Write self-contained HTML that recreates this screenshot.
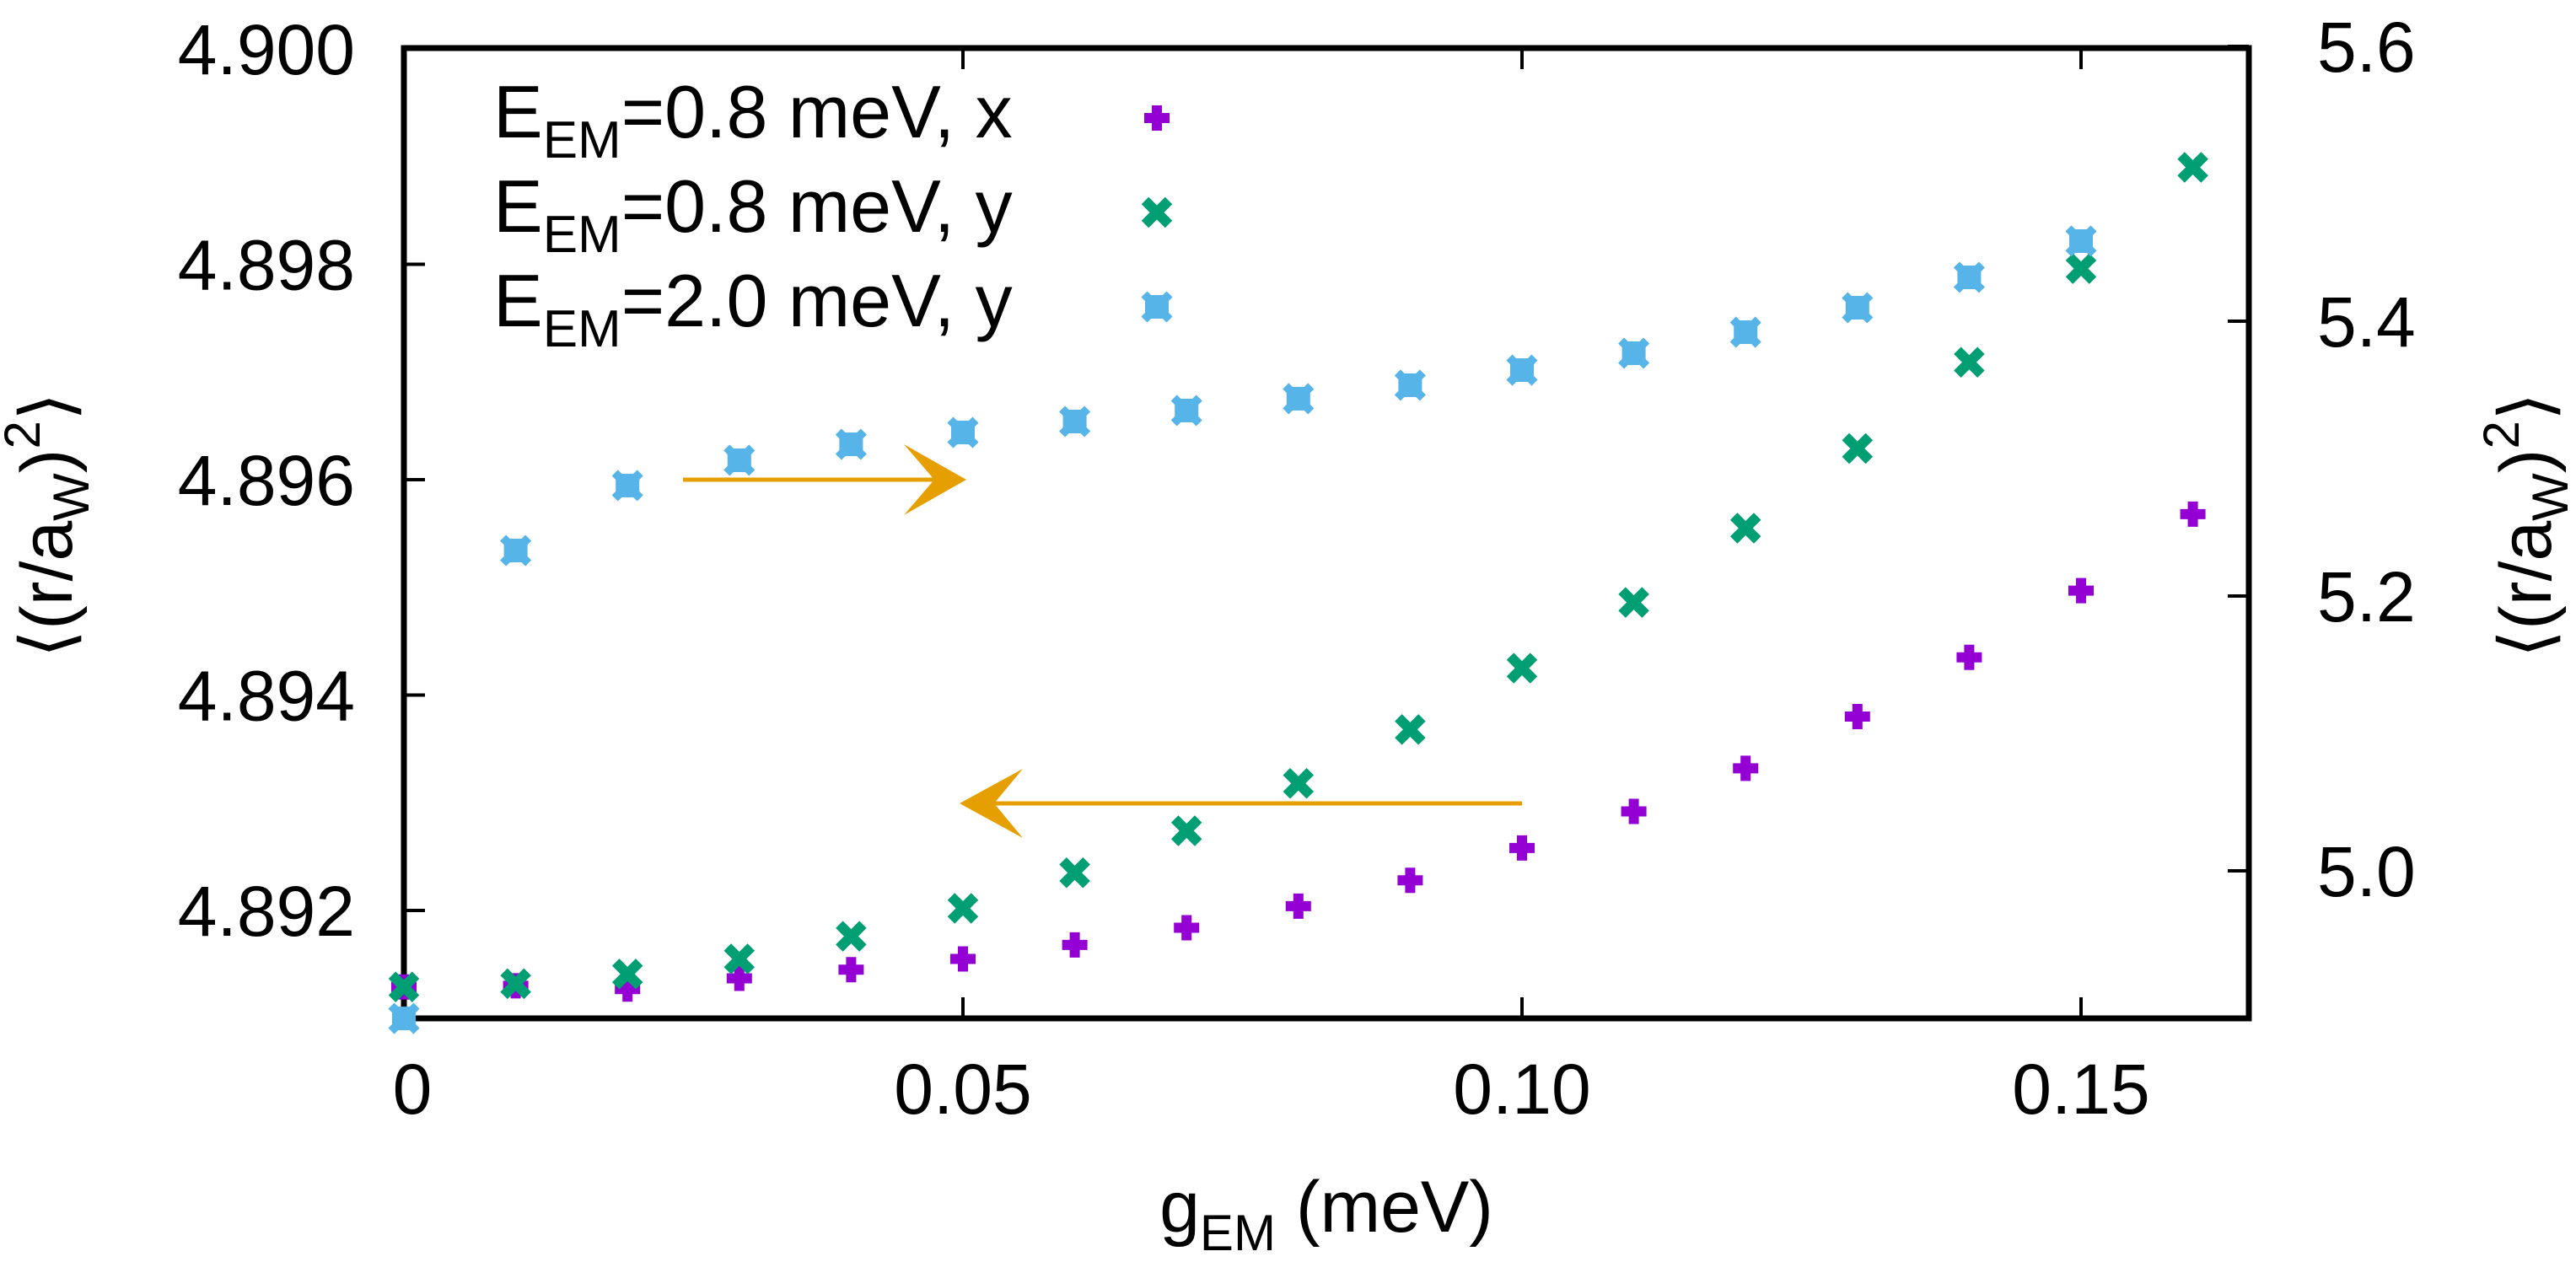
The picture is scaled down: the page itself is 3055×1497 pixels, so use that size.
<!DOCTYPE html>
<html><head><meta charset="utf-8"><style>
html,body{margin:0;padding:0;background:#fff;}
svg{display:block;font-family:"Liberation Sans",sans-serif;}
</style></head><body>
<svg id="chart" width="3055" height="1497" viewBox="0 0 3055 1497" xmlns="http://www.w3.org/2000/svg">
<g id="axes"></g>
<g id="marks"></g>
<g id="legend"></g>
</svg>
<script>
const gValues = [0,0.01,0.02,0.03,0.04,0.05,0.06,0.07,0.08,0.09,0.10,0.11,0.12,0.13,0.14,0.15,0.16];
const seriesX08 = [4.89129,4.89130,4.89127,4.89137,4.89145,4.89155,4.89168,4.89184,4.89204,4.89228,4.89258,4.89292,4.89332,4.89380,4.89435,4.89497,4.89568];
const seriesY08 = [4.89129,4.89132,4.89141,4.89155,4.89176,4.89202,4.89235,4.89274,4.89318,4.89368,4.89425,4.89486,4.89555,4.89629,4.89709,4.89796,4.89890];
const gValues20 = [0,0.01,0.02,0.03,0.04,0.05,0.06,0.07,0.08,0.09,0.10,0.11,0.12,0.13,0.14,0.15];
const seriesY20 = [4.8926,5.2331,5.2804,5.2988,5.3104,5.3190,5.3270,5.3350,5.3436,5.3534,5.3644,5.3767,5.3920,5.4098,5.4319,5.4583];
const xTicks = [0,0.05,0.10,0.15];
const xTickLabels = ["0","0.05","0.10","0.15"];
const yTicks = [4.892,4.894,4.896,4.898,4.900];
const yTickLabels = ["4.892","4.894","4.896","4.898","4.900"];
const y2Ticks = [5.0,5.2,5.4,5.6];
const y2TickLabels = ["5.0","5.2","5.4","5.6"];
const legendLabels = ["0.8 meV, x","0.8 meV, y","2.0 meV, y"];

const L=479,R=2667,T=57,B=1208;
const X=v=>L+v/0.05*663;
const Y=v=>569-(v-4.896)*127750;
const Y2=v=>1033-(v-5.0)*1630;
const NS="http://www.w3.org/2000/svg";
function mk(tag,attrs,parent){const e=document.createElementNS(NS,tag);for(const k in attrs)e.setAttribute(k,attrs[k]);parent.appendChild(e);return e;}
const axes=document.getElementById('axes'),marks=document.getElementById('marks'),legend=document.getElementById('legend');

// ticks
xTicks.forEach((v,i)=>{
  const x=X(v);
  let t=mk('line',{x1:x,y1:B,x2:x,y2:B-25,stroke:'#000','stroke-width':4},axes);
  
  t=mk('line',{x1:x,y1:T,x2:x,y2:T+25,stroke:'#000','stroke-width':4},axes);
  
  const lb=mk('text',{x:x+(i===0?10:0),y:1321,'font-size':84,'text-anchor':'middle'},axes);
  lb.textContent=xTickLabels[i];
  
});
yTicks.forEach((v,i)=>{
  const y=Y(v);
  const t=mk('line',{x1:L,y1:y,x2:L+25,y2:y,stroke:'#000','stroke-width':4},axes);
  
  const lb=mk('text',{x:421,y:y+30,'font-size':84,'text-anchor':'end'},axes);
  lb.textContent=yTickLabels[i];
  
});
y2Ticks.forEach((v,i)=>{
  const y=Y2(v);
  const t=mk('line',{x1:R,y1:y,x2:R-25,y2:y,stroke:'#000','stroke-width':4},axes);
  
  const lb=mk('text',{x:2748,y:y+30,'font-size':84,'text-anchor':'start'},axes);
  lb.textContent=y2TickLabels[i];
  
});
const frame=mk('rect',{x:L,y:T,width:R-L,height:B-T,fill:'none',stroke:'#000','stroke-width':7},axes);


// axis titles
const xt=mk('text',{x:1573,y:1461,'font-size':86,'text-anchor':'middle'},axes);
xt.innerHTML='g<tspan font-size="60" dy="22">EM</tspan><tspan dy="-22"> (meV)</tspan>';

const yt=mk('text',{x:0,y:0,'font-size':86,'text-anchor':'middle',transform:'translate(85,623) rotate(-90)'},axes);
yt.innerHTML='⟨(r/a<tspan font-size="60" dy="20">W</tspan><tspan dy="-20">)</tspan><tspan font-size="60" dy="-38">2</tspan><tspan dy="38">⟩</tspan>';

const y2t=mk('text',{x:0,y:0,'font-size':86,'text-anchor':'middle',transform:'translate(3025,623) rotate(-90)'},axes);
y2t.innerHTML='⟨(r/a<tspan font-size="60" dy="20">W</tspan><tspan dy="-20">)</tspan><tspan font-size="60" dy="-38">2</tspan><tspan dy="38">⟩</tspan>';


// markers
function plus(x,y,g){const p=mk('path',{d:`M${x-15},${y}H${x+15}M${x},${y-15}V${y+15}`,stroke:'#9400D3','stroke-width':12,fill:'none'},g);return p;}
function cross(x,y,g){return mk('path',{d:`M${x-14},${y-14}L${x+14},${y+14}M${x-14},${y+14}L${x+14},${y-14}`,stroke:'#009E73','stroke-width':12,fill:'none'},g);}
function boxx(x,y,g){const gg=mk('g',{},g);mk('rect',{x:x-14,y:y-14,width:28,height:28,fill:'#56B4E9'},gg);mk('path',{d:`M${x-15},${y-15}L${x+15},${y+15}M${x-15},${y+15}L${x+15},${y-15}`,stroke:'#56B4E9','stroke-width':10},gg);return gg;}

gValues.forEach((g,i)=>{const m=plus(X(g),Y(seriesX08[i]),marks);
});
gValues.forEach((g,i)=>{const m=cross(X(g),Y(seriesY08[i]),marks);
});
gValues20.forEach((g,i)=>{const m=boxx(X(g),Y2(seriesY20[i]),marks);
});

// arrows
const a1=mk('g',{},marks);

mk('line',{x1:810,y1:569,x2:1120,y2:569,stroke:'#E69F00','stroke-width':5},a1);
mk('polygon',{points:'1146,569 1072,527 1108,569 1072,611',fill:'#E69F00'},a1);
const a2=mk('g',{},marks);

mk('line',{x1:1805,y1:953,x2:1160,y2:953,stroke:'#E69F00','stroke-width':5},a2);
mk('polygon',{points:'1138,953 1213,912 1179,953 1213,994',fill:'#E69F00'},a2);

// legend
const rowsY=[163,275,387];
const sampleFns=[plus,cross,boxx];
legendLabels.forEach((lab,i)=>{
  const t=mk('text',{x:585,y:rowsY[i],'font-size':88},legend);
  t.innerHTML='E<tspan font-size="62" dy="24">EM</tspan><tspan dy="-24">='+lab+'</tspan>';
  
  const s=sampleFns[i](1372,rowsY[i]-23,legend);
  
});
</script>
</body></html>
